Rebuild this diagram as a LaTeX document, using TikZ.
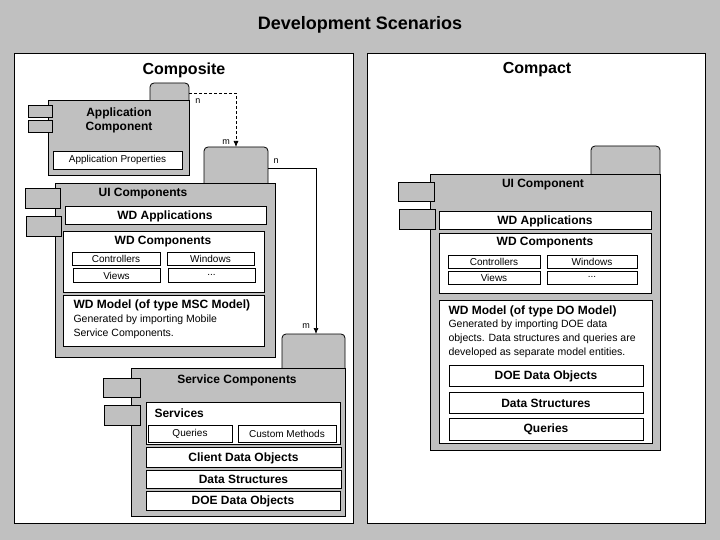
\documentclass[tikz,border=0pt]{standalone}
\usepackage{fontspec}
\setmainfont{Liberation Sans}
\begin{document}
\begin{tikzpicture}[x=1pt,y=-1pt,
  g/.style={draw=black,fill=boxgray,line width=0.8pt},
  tab/.style={draw=black,fill=boxgray,line width=0.8pt,rounded corners=4pt},
  w/.style={draw=black,fill=white,line width=0.8pt},
  hd/.style={font=\bfseries\fontsize{12}{14}\selectfont},
  sm/.style={font=\fontsize{10}{12}\selectfont},
  tx/.style={font=\fontsize{10.5}{14}\selectfont,anchor=west},
  con/.style={line width=0.7pt,-{Latex[length=6pt,width=5pt]}},
  lb/.style={font=\fontsize{9}{10}\selectfont}]
\usetikzlibrary{arrows.meta}
\definecolor{boxgray}{HTML}{C0C0C0}
\fill[boxgray] (0,0) rectangle (720,540);
\useasboundingbox (0,0) rectangle (720,540);
\node[font=\bfseries\fontsize{18}{20}\selectfont] (title) at (360,25) {Development Scenarios};
\draw[fill=white,line width=0.8pt] (14,53) rectangle (353,523);
\draw[fill=white,line width=0.8pt] (367,53) rectangle (705,523);
\node[font=\bfseries\fontsize{16}{18}\selectfont] (comp) at (184,70) {Composite};
\node[font=\bfseries\fontsize{16}{18}\selectfont] (compact) at (537,70) {Compact};
% Application Component
\draw[tab] (150,83) rectangle (189,104);
\draw[g] (48,100) rectangle (189,175);
\draw[g] (28,105) rectangle (52,117);
\draw[g] (28,120) rectangle (52,132);
\node[hd,align=center] (app) at (119,120) {Application\\Component};
\draw[w] (53,151) rectangle (182,169);
\node[sm] (appp) at (117.5,160) {Application Properties};
\coordinate (apptab) at (189,93);
% UI Components
\draw[tab] (204,147) rectangle (268,187);
\coordinate (uitabtop) at (236,147);
\coordinate (uitab) at (268,168);
\draw[g] (55,183) rectangle (275,357);
\draw[g] (25,188) rectangle (60,208);
\draw[g] (26,216) rectangle (61,236);
\node[hd] (ui) at (143,194) {UI Components};
\draw[w] (65,206) rectangle (266,224);
\node[hd] (wdapp) at (165,216) {WD Applications};
\draw[w] (63,231) rectangle (264,292);
\node[hd] (wdc) at (163,242) {WD Components};
\draw[w] (72,252) rectangle (160,265); \node[sm] (c1) at (116,259) {Controllers};
\draw[w] (167,252) rectangle (254,265); \node[sm] (c2) at (210.5,259) {Windows};
\draw[w] (73,268) rectangle (160,282); \node[sm] (c3) at (116.5,275.5) {Views};
\draw[w] (168,268) rectangle (255,282); \node[sm] (c4) at (211.5,274.5) {...};
\draw[w] (63,295) rectangle (264,346);
\node[hd,anchor=west] (wdm) at (70,305) {WD Model (of type MSC Model)};
\node[tx] (wdmt1) at (70,320) {Generated by importing Mobile};
\node[tx] (wdmt2) at (70,334) {Service Components.};
% Service Components
\draw[tab] (282,334) rectangle (345,372);
\coordinate (svtabtop) at (316,334);
\draw[g] (131,368) rectangle (345,516);
\draw[g] (103,378) rectangle (140,397);
\draw[g] (104,405) rectangle (140,425);
\node[hd] (sc) at (237,380) {Service Components};
\draw[w] (146,402) rectangle (340,444);
\node[hd,anchor=west] (svc) at (151,413) {Services};
\draw[w] (148,425) rectangle (232,442); \node[sm] (q) at (190,433.5) {Queries};
\draw[w] (238,425) rectangle (336,442); \node[sm] (cm) at (287,433.5) {Custom Methods};
\draw[w] (146,447) rectangle (341,467); \node[hd] (cdo) at (243.5,458) {Client Data Objects};
\draw[w] (146,470) rectangle (341,488); \node[hd] (ds) at (243.5,479.5) {Data Structures};
\draw[w] (146,491) rectangle (340,510); \node[hd] (doe) at (243,501) {DOE Data Objects};
% connectors
\draw[con,dashed,dash pattern=on 3pt off 2pt] (apptab) -- (236,93) -- (uitabtop);
\node[lb] (n1) at (198,101) {n};
\node[lb] (m1) at (226,142) {m};
\draw[con] (uitab) -- (316,168) -- (svtabtop);
\node[lb] (n2) at (276,161) {n};
\node[lb] (m2) at (306,326) {m};
% Right
\draw[tab] (591,146) rectangle (660,178);
\draw[g] (430,174) rectangle (660,450);
\draw[g] (398,182) rectangle (434,201);
\draw[g] (399,209) rectangle (435,229);
\node[hd] (rui) at (543,185) {UI Component};
\draw[w] (439,211) rectangle (651,229); \node[hd] (rwda) at (545,221) {WD Applications};
\draw[w] (439,233) rectangle (651,293); \node[hd] (rwdc) at (545,243) {WD Components};
\draw[w] (448,255) rectangle (540,268); \node[sm] (r1) at (494,261.5) {Controllers};
\draw[w] (547,255) rectangle (637,268); \node[sm] (r2) at (592,261.5) {Windows};
\draw[w] (448,271) rectangle (540,284); \node[sm] (r3) at (494,278) {Views};
\draw[w] (547,271) rectangle (637,284); \node[sm] (r4) at (592,277) {...};
\draw[w] (439,300) rectangle (652,443);
\node[hd,anchor=west] (rwdm) at (445,311) {WD Model (of type DO Model)};
\node[tx] (rt1) at (445,324.5) {Generated by importing DOE data};
\node[tx] (rt2) at (445,338.5) {objects. Data structures and queries are};
\node[tx] (rt3) at (445,352.5) {developed as separate model entities.};
\draw[w] (449,365) rectangle (643,386); \node[hd] (rdoe) at (546,376) {DOE Data Objects};
\draw[w] (449,392) rectangle (643,413); \node[hd] (rds) at (546,403) {Data Structures};
\draw[w] (449,418) rectangle (643,440); \node[hd] (rq) at (546,429.5) {Queries};
\end{tikzpicture}
\end{document}
